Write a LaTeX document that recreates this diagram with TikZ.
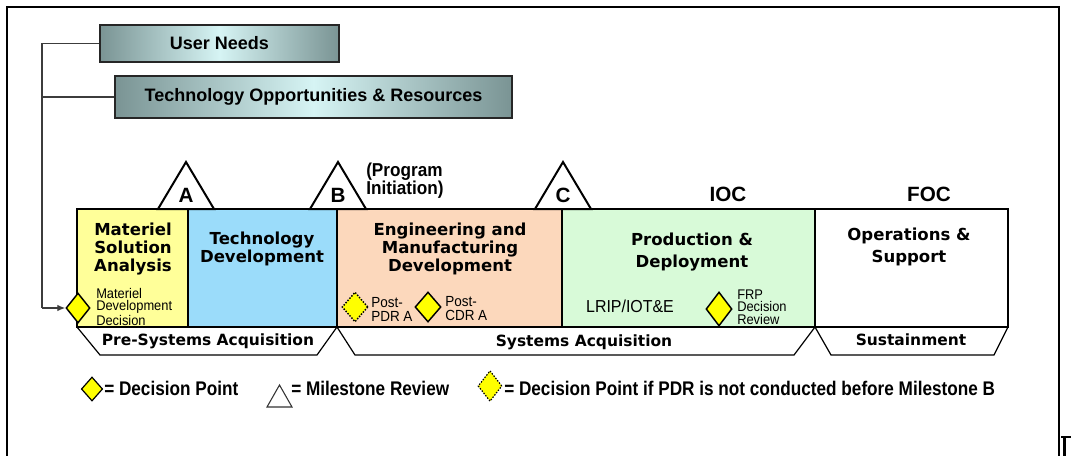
\documentclass[tikz,border=0pt]{standalone}
\usepackage{fontspec}
\setmainfont{Liberation Sans}
\newfontfamily\vfont{DejaVu Sans}
\newfontfamily\nfont[FakeStretch=0.92]{Liberation Sans}
\newfontfamily\lfont[FakeStretch=0.87]{Liberation Sans}
\usetikzlibrary{shapes.geometric,arrows.meta}
\definecolor{msaY}{RGB}{255,255,153}
\definecolor{tdB}{RGB}{155,220,250}
\definecolor{emdP}{RGB}{252,216,188}
\definecolor{pdG}{RGB}{216,250,216}
\definecolor{dpY}{RGB}{255,255,0}
\definecolor{tealgray}{RGB}{122,148,148}
\definecolor{tealpale}{RGB}{214,244,244}
\definecolor{connc}{RGB}{60,60,60}
\tikzset{
  topbox/.style={draw=black!85, line width=1.4pt, left color=tealgray, right color=tealgray, middle color=tealpale, font=\bfseries\fontsize{13.5}{16}\selectfont, inner sep=0pt},
  phasetxt/.style={font=\vfont\bfseries\fontsize{12.4}{13.3}\selectfont, align=center, inner sep=0pt},
  phasetxtw/.style={font=\vfont\bfseries\fontsize{12.4}{16}\selectfont, align=center, inner sep=0pt},
  dp/.style={diamond, draw=black, line width=1.1pt, fill=dpY, inner sep=0pt},
  dpdot/.style={dp, dash pattern=on 1.1pt off 1.1pt},
  ms/.style={draw=black, line width=1.5pt, fill=white, line join=miter},
  mslabel/.style={font=\bfseries\fontsize{15.5}{18}\selectfont, inner sep=0pt},
  smalltxt/.style={font=\nfont\fontsize{10.5}{9}\selectfont, align=left, anchor=west, inner sep=0pt},
  trap/.style={draw=black, line width=0.9pt, fill=white},
  traptxt/.style={font=\vfont\bfseries\fontsize{11.6}{13}\selectfont, inner sep=0pt},
  legtxt/.style={font=\lfont\bfseries\fontsize{14.8}{17}\selectfont, anchor=west, inner sep=0pt},
  conn/.style={draw=connc, line width=1pt},
  barline/.style={line width=1.6pt}
}
\begin{document}
\begin{tikzpicture}[x=0.75pt,y=-0.75pt]
\useasboundingbox (0,0) rectangle (1071,455);
\fill[white] (0,0) rectangle (1071,455);
% frame
\draw[line width=1.9pt] (7,458) -- (7,7) -- (1059,7) -- (1059,458);
\draw[line width=1.8pt] (1061,437) -- (1073,437);
\draw[line width=2pt] (1064.5,437) -- (1064.5,458);
% top boxes
\node[topbox, minimum width=179.25pt, minimum height=27.75pt] (un) at (219.5,43.5) {User Needs};
\node[topbox, minimum width=297.75pt, minimum height=31.5pt] (tor) at (313.5,97) {Technology Opportunities \& Resources};
% trapezoids
\draw[trap] (77,327) -- (100,355) -- (317,355) -- (337,327);
\draw[trap] (337,327) -- (355,355) -- (794,355) -- (815,327);
\draw[trap] (815,327) -- (831,355) -- (994,355) -- (1008,327);
\node[traptxt] (psa) at (208,341) {Pre-Systems Acquisition};
\node[traptxt] (sa) at (584,342) {Systems Acquisition};
\node[traptxt] (sus) at (911,340) {Sustainment};
% phase fills
\fill[msaY] (77,209) rectangle (188,327);
\fill[tdB] (188,209) rectangle (337,327);
\fill[emdP] (337,209) rectangle (562,327);
\fill[pdG] (562,209) rectangle (815,327);
\fill[white] (815,209) rectangle (1008,327);
% milestones
\draw[ms] (158,209) -- (186,162) -- (214,209) -- cycle;
\draw[ms] (310,209) -- (338,162) -- (366,209) -- cycle;
\draw[ms] (535,209) -- (563,162) -- (591,209) -- cycle;
\node[mslabel] (mA) at (186,195) {A};
\node[mslabel] (mB) at (338,195) {B};
\node[mslabel] (mC) at (563,195) {C};
\node[font=\nfont\bfseries\fontsize{14}{13.5}\selectfont, align=left, anchor=west, inner sep=0pt] (pi) at (366,181) {(Program\\Initiation)};
\node[mslabel] (ioc) at (728,194) {IOC};
\node[mslabel] (foc) at (929,194) {FOC};
% bar borders
\draw[barline] (77,209) rectangle (1008,327);
\draw[barline] (188,209) -- (188,327);
\draw[barline] (337,209) -- (337,327);
\draw[barline] (562,209) -- (562,327);
\draw[barline] (815,209) -- (815,327);
% phase labels
\node[phasetxt] (msa) at (133,249) {Materiel\\Solution\\Analysis};
\node[phasetxt] (td) at (262,249) {Technology\\Development};
\node[phasetxt] (emd) at (450,249) {Engineering and\\Manufacturing\\Development};
\node[phasetxtw] (pd) at (692,252) {Production \&\\Deployment};
\node[phasetxtw] (os) at (909,247) {Operations \&\\Support};
% decision points
\node[dp, minimum width=18pt, minimum height=22.5pt] (mdd) at (78,308) {};
\node[smalltxt] (mddt) at (96,307) {Materiel\\Development\\Decision};
\node[dpdot, minimum width=19.5pt, minimum height=22.5pt] (pdr) at (355,307) {};
\node[smalltxt, font=\nfont\fontsize{11}{10.5}\selectfont] (pdrt) at (371,309) {Post-\\PDR A};
\node[dp, minimum width=19.5pt, minimum height=22.5pt] (cdr) at (428,307) {};
\node[smalltxt, font=\nfont\fontsize{11}{10.5}\selectfont] (cdrt) at (445,309) {Post-\\CDR A};
\node[font=\nfont\fontsize{13}{15}\selectfont, inner sep=0pt] (lrip) at (630,306) {LRIP/IOT\&E};
\node[dp, minimum width=19.5pt, minimum height=25.5pt] (frp) at (719,309) {};
\node[smalltxt, font=\nfont\fontsize{10.5}{9.2}\selectfont] (frpt) at (737,307) {FRP\\Decision\\Review};
% connectors
\coordinate (lt) at (42,43.5);
\coordinate (lb) at (42,308);
\draw[conn] (un.west) -- (lt) -- (lb);
\draw[conn] (tor.west) -- (tor.west -| lt);
\draw[conn, -{Latex[length=6pt,width=5pt]}] (lb) -- (mdd.west);
% legend
\node[dp, line width=0.9pt, minimum width=16pt, minimum height=18pt] (lg1) at (92,389) {};
\node[legtxt] (lg1t) at (104,388) {= Decision Point};
\draw[line width=0.8pt, draw=black!80] (267,407) -- (279.5,385) -- (292,407) -- cycle;
\node[legtxt] (lg2t) at (291,388) {= Milestone Review};
\node[dpdot, line width=0.9pt, minimum width=18pt, minimum height=23pt] (lg3) at (490,386) {};
\node[legtxt] (lg3t) at (504,388) {= Decision Point if PDR is not conducted before Milestone B};
\end{tikzpicture}
\end{document}
